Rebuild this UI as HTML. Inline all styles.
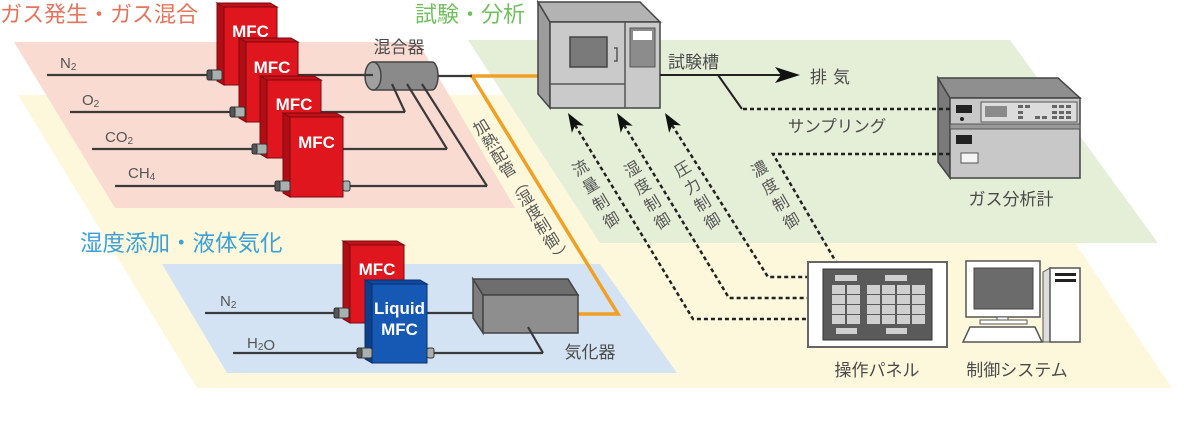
<!DOCTYPE html>
<html><head><meta charset="utf-8"><style>
html,body{margin:0;padding:0;background:#fff;}
svg{display:block;}
text{font-family:"Liberation Sans","Noto Sans CJK JP",sans-serif;}
</style></head><body>
<svg width="1200" height="445" viewBox="0 0 1200 445" xmlns="http://www.w3.org/2000/svg">
<!-- planes -->
<polygon points="18,95 977,95 1172,388 197,388" fill="#fdf8dc"/>
<polygon points="14,42 418,42 515,208 115,208" fill="#f9dbd2"/>
<polygon points="468,40 1010,40 1158,243 600,243" fill="#e5efd8"/>
<polygon points="162,264 600,264 677,373 227,373" fill="#d3e3f4"/>

<!-- titles -->
<text x="0" y="22" font-size="22" fill="#e8735c">ガス発生・ガス混合</text>
<text x="415" y="22" font-size="22" fill="#72bf5e">試験・分析</text>
<text x="80" y="251" font-size="22.5" fill="#3ba0d6">湿度添加・液体気化</text>

<!-- gas lines -->
<g stroke="#3a3a3a" stroke-width="2.2" fill="none">
<line x1="47" y1="75" x2="373" y2="75"/>
<line x1="70" y1="112" x2="405" y2="112"/>
<line x1="92" y1="149" x2="447" y2="149"/>
<line x1="115" y1="186" x2="487" y2="186"/>
</g>
<g font-size="15" fill="#555">
<text x="60" y="68">N<tspan font-size="10" dy="2">2</tspan></text>
<text x="82" y="105">O<tspan font-size="10" dy="2">2</tspan></text>
<text x="105" y="142">CO<tspan font-size="10" dy="2">2</tspan></text>
<text x="128" y="178">CH<tspan font-size="10" dy="2">4</tspan></text>
</g>

<!-- MFCs -->
<g stroke="#7a0a0e" stroke-width="1">
<polygon points="217,3 224,7 224,85 217,81" fill="#b00d14"/>
<polygon points="217,3 270,3 277,7 224,7" fill="#c41018"/>
<rect x="224" y="7" width="53" height="78" fill="#e0161e"/>
</g>
<text x="250.5" y="37" font-size="17" font-weight="bold" fill="#fff" text-anchor="middle">MFC</text>
<g stroke="#7a0a0e" stroke-width="1">
<polygon points="239,38 246,42 246,122 239,118" fill="#b00d14"/>
<polygon points="239,38 291,38 298,42 246,42" fill="#c41018"/>
<rect x="246" y="42" width="52" height="80" fill="#e0161e"/>
</g>
<text x="272" y="73" font-size="17" font-weight="bold" fill="#fff" text-anchor="middle">MFC</text>
<g stroke="#7a0a0e" stroke-width="1">
<polygon points="260,76 267,80 267,158 260,154" fill="#b00d14"/>
<polygon points="260,76 314,76 321,80 267,80" fill="#c41018"/>
<rect x="267" y="80" width="54" height="78" fill="#e0161e"/>
</g>
<text x="294" y="110" font-size="17" font-weight="bold" fill="#fff" text-anchor="middle">MFC</text>
<g stroke="#7a0a0e" stroke-width="1">
<polygon points="283,113 290,117 290,197 283,193" fill="#b00d14"/>
<polygon points="283,113 336,113 343,117 290,117" fill="#c41018"/>
<rect x="290" y="117" width="53" height="80" fill="#e0161e"/>
</g>
<text x="316.5" y="148" font-size="17" font-weight="bold" fill="#fff" text-anchor="middle">MFC</text>

<!-- connectors gas -->
<g stroke="#333" stroke-width="1">
<rect x="207" y="70" width="15" height="10" rx="2" fill="#a9b0b0"/><rect x="207" y="70" width="5" height="10" rx="2" fill="#555"/>
<rect x="230" y="107" width="15" height="10" rx="2" fill="#a9b0b0"/><rect x="230" y="107" width="5" height="10" rx="2" fill="#555"/>
<rect x="252" y="144" width="15" height="10" rx="2" fill="#a9b0b0"/><rect x="252" y="144" width="5" height="10" rx="2" fill="#555"/>
<rect x="275" y="181" width="15" height="10" rx="2" fill="#a9b0b0"/><rect x="275" y="181" width="5" height="10" rx="2" fill="#555"/>
<rect x="343" y="181" width="7" height="10" rx="2" fill="#a9b0b0"/>
</g>

<!-- orange pipe -->
<path d="M470,76 H551 M472,76 L618,314 L578,314" fill="none" stroke="#f0a024" stroke-width="3.5" stroke-linejoin="miter"/>

<!-- mixer -->
<path d="M373,62 H432 A6,14 0 0 1 432,90 H373 Z" fill="#8a8a8a" stroke="#444" stroke-width="1.5"/>
<ellipse cx="373" cy="76" rx="8" ry="14" fill="#a0a0a0" stroke="#444" stroke-width="1.5"/>
<line x1="365" y1="75" x2="373" y2="75" stroke="#3a3a3a" stroke-width="2.2"/>
<g stroke="#3a3a3a" stroke-width="2.2" fill="none">
<path d="M392,84 L405,112 M407,84 L447,149 M422,84 L487,186"/>
<line x1="438" y1="76" x2="472" y2="76"/>
</g>
<text x="399" y="53" font-size="17" fill="#4a4a4a" text-anchor="middle">混合器</text>

<!-- chamber -->
<polygon points="538,2 550,22 550,108 538,94" fill="#9c9c9c" stroke="#444" stroke-width="1.5"/>
<polygon points="538,2 640,2 660,22 550,22" fill="#b3b3b3" stroke="#444" stroke-width="1.5"/>
<rect x="550" y="22" width="110" height="86" fill="#cacaca" stroke="#444" stroke-width="1.5"/>
<line x1="625" y1="22" x2="625" y2="108" stroke="#555" stroke-width="1.5"/>
<line x1="550" y1="84" x2="625" y2="84" stroke="#555" stroke-width="1.5"/>
<rect x="570" y="37" width="37" height="30" fill="#7a7a7a" stroke="#444" stroke-width="1.5"/>
<path d="M614,48 h3 v13 h-3" fill="none" stroke="#555" stroke-width="1.5"/>
<rect x="630" y="28" width="25" height="39" fill="#8c8c8c" stroke="#555"/>
<rect x="633" y="31" width="19" height="9" fill="#fff"/>

<!-- exhaust / sampling -->
<line x1="660" y1="75" x2="782" y2="75" stroke="#222" stroke-width="2"/>
<polygon points="800,75 775,67 781,75 775,83" fill="#111"/>
<text x="668" y="68" font-size="17" fill="#4a4a4a">試験槽</text>
<text x="810" y="83" font-size="17" fill="#4a4a4a" letter-spacing="6">排気</text>
<path d="M718,75 L742,109" stroke="#222" stroke-width="2" fill="none"/>
<text x="837" y="132" font-size="16.5" fill="#4a4a4a" text-anchor="middle">サンプリング</text>

<!-- gas analyzer -->
<polygon points="938,78 950,98 950,178 938,162" fill="#7a7a7a" stroke="#444" stroke-width="1.5"/>
<polygon points="938,78 1058,78 1080,98 950,98" fill="#8f8f8f" stroke="#444" stroke-width="1.5"/>
<rect x="950" y="98" width="130" height="80" fill="#c8c8c8" stroke="#444" stroke-width="1.5"/>
<rect x="950" y="124" width="130" height="5" fill="#9a9a9a" stroke="#555"/>
<rect x="956" y="105" width="16" height="8" fill="#222"/>
<circle cx="962" cy="119" r="2" fill="#222"/>
<rect x="981" y="102" width="96" height="20" fill="#dcdcdc" stroke="#555"/>
<rect x="985" y="106" width="22" height="11" fill="#8a8a8a"/>
<g fill="#666">
<rect x="1018" y="105" width="5" height="3"/><rect x="1025" y="105" width="5" height="3"/>
<rect x="1018" y="111" width="5" height="3"/><rect x="1018" y="116" width="5" height="3"/>
<rect x="1035" y="116" width="5" height="3"/><rect x="1042" y="116" width="5" height="3"/>
<rect x="1052" y="105" width="5" height="3"/><rect x="1059" y="105" width="5" height="3"/><rect x="1066" y="105" width="5" height="3"/>
<rect x="1052" y="111" width="5" height="3"/><rect x="1059" y="111" width="5" height="3"/><rect x="1066" y="111" width="5" height="3"/>
<rect x="1052" y="116" width="5" height="3"/><rect x="1059" y="116" width="5" height="3"/><rect x="1066" y="116" width="5" height="3"/>
</g>
<rect x="956" y="135" width="16" height="9" fill="#222"/>
<rect x="961" y="153" width="17" height="10" fill="#f4f4f4" stroke="#555"/>
<text x="1011" y="205" font-size="17" fill="#4a4a4a" text-anchor="middle">ガス分析計</text>

<!-- dashed control lines -->
<g stroke="#222" stroke-width="2.5" fill="none" stroke-dasharray="4 3">
<path d="M743,109 H950"/>
<path d="M950,154 H773 L836,262"/>
<path d="M575,125 L693,319 H808"/>
<path d="M624,125 L729,298 H808"/>
<path d="M672,125 L768,277 H808"/>
</g>
<g fill="#111">
<polygon points="0,0 -7,19 0,14 7,19" transform="translate(568,113) rotate(-31.3)"/>
<polygon points="0,0 -7,19 0,14 7,19" transform="translate(617,113) rotate(-30.8)"/>
<polygon points="0,0 -7,19 0,14 7,19" transform="translate(665,113) rotate(-32)"/>
</g>

<!-- rotated labels -->
<g font-size="16" fill="#555" text-anchor="middle" dominant-baseline="central">
<text transform="translate(581,169) rotate(-31)">流</text>
<text transform="translate(591.3,186.3) rotate(-31)">量</text>
<text transform="translate(601.6,203.6) rotate(-31)">制</text>
<text transform="translate(612,221) rotate(-31)">御</text>
<text transform="translate(633,170) rotate(-31)">湿</text>
<text transform="translate(643,187.3) rotate(-31)">度</text>
<text transform="translate(653,204.6) rotate(-31)">制</text>
<text transform="translate(663,222) rotate(-31)">御</text>
<text transform="translate(683,170) rotate(-31)">圧</text>
<text transform="translate(693,187.3) rotate(-31)">力</text>
<text transform="translate(703,204.6) rotate(-31)">制</text>
<text transform="translate(713,222) rotate(-31)">御</text>
<text transform="translate(760,170) rotate(-30)">濃</text>
<text transform="translate(770.7,187.3) rotate(-30)">度</text>
<text transform="translate(781.3,204.6) rotate(-30)">制</text>
<text transform="translate(792,222) rotate(-30)">御</text>
<text transform="translate(482,128) rotate(-31.5)">加</text>
<text transform="translate(490.8,142.2) rotate(-31.5)">熱</text>
<text transform="translate(499.6,156.4) rotate(-31.5)">配</text>
<text transform="translate(508.3,170.7) rotate(-31.5)">管</text>
<text transform="translate(517.1,184.9) rotate(58.5)">（</text>
<text transform="translate(525.9,199.1) rotate(-31.5)">湿</text>
<text transform="translate(534.7,213.3) rotate(-31.5)">度</text>
<text transform="translate(543.4,227.6) rotate(-31.5)">制</text>
<text transform="translate(552.2,241.8) rotate(-31.5)">御</text>
<text transform="translate(561,256) rotate(58.5)">）</text>
</g>

<!-- humidity section lines -->
<g stroke="#3a3a3a" stroke-width="2.2" fill="none">
<line x1="205" y1="313" x2="483" y2="313"/>
<line x1="233" y1="353" x2="543" y2="353"/>
</g>
<g font-size="15" fill="#555">
<text x="220" y="306">N<tspan font-size="10" dy="2">2</tspan></text>
<text x="247" y="348">H<tspan font-size="10" dy="2">2</tspan>O</text>
</g>
<g stroke="#7a0a0e" stroke-width="1">
<polygon points="343,241 350,245 350,323 343,319" fill="#b00d14"/>
<polygon points="343,241 397,241 404,245 350,245" fill="#c41018"/>
<rect x="350" y="245" width="54" height="78" fill="#e0161e"/>
</g>
<text x="377" y="275" font-size="17" font-weight="bold" fill="#fff" text-anchor="middle">MFC</text>
<g stroke="#0a2f6a" stroke-width="1">
<polygon points="365,280 372,284 372,363 365,359" fill="#0d3f8a"/>
<polygon points="365,280 420,280 427,284 372,284" fill="#0f4aa0"/>
<rect x="372" y="284" width="55" height="79" fill="#1659b5"/>
</g>
<text x="399.5" y="314" font-size="17" font-weight="bold" fill="#fff" text-anchor="middle">Liquid</text>
<text x="399.5" y="335" font-size="17" font-weight="bold" fill="#fff" text-anchor="middle">MFC</text>
<g stroke="#333" stroke-width="1">
<rect x="334" y="308" width="15" height="10" rx="2" fill="#a9b0b0"/><rect x="334" y="308" width="5" height="10" rx="2" fill="#555"/>
<rect x="357" y="348" width="15" height="10" rx="2" fill="#a9b0b0"/><rect x="357" y="348" width="5" height="10" rx="2" fill="#555"/>
<rect x="427" y="348" width="7" height="10" rx="2" fill="#a9b0b0"/>
</g>

<!-- vaporizer -->
<polygon points="473,279 483,295 483,333 473,318" fill="#7d7d7d" stroke="#444" stroke-width="1.5"/>
<polygon points="473,279 568,279 578,295 483,295" fill="#6e6e6e" stroke="#444" stroke-width="1.5"/>
<rect x="483" y="295" width="95" height="38" fill="#8e8e8e" stroke="#444" stroke-width="1.5"/>
<path d="M543,353 L528,327" stroke="#3a3a3a" stroke-width="2.2" fill="none"/>
<text x="590" y="358" font-size="17" fill="#4a4a4a" text-anchor="middle">気化器</text>

<!-- operation panel -->
<rect x="808" y="262" width="139" height="85" fill="#fff" stroke="#666" stroke-width="2"/>
<rect x="823" y="269" width="109" height="71" fill="#5a5a5a" stroke="#333"/>
<g fill="#cfcfcf">
<rect x="835" y="275" width="22" height="6"/><rect x="885" y="275" width="22" height="6"/>
<rect x="836" y="328" width="21" height="6"/><rect x="886" y="328" width="21" height="6"/>
<rect x="832" y="285" width="13" height="9"/><rect x="847" y="285" width="13" height="9"/>
<rect x="832" y="295" width="13" height="9"/><rect x="847" y="295" width="13" height="9"/>
<rect x="832" y="305" width="13" height="9"/><rect x="847" y="305" width="13" height="9"/>
<rect x="832" y="315" width="13" height="9"/><rect x="847" y="315" width="13" height="9"/>
<rect x="867" y="285" width="13" height="9"/><rect x="882" y="285" width="13" height="9"/><rect x="897" y="285" width="13" height="9"/><rect x="912" y="285" width="13" height="9"/>
<rect x="867" y="295" width="13" height="9"/><rect x="882" y="295" width="13" height="9"/><rect x="897" y="295" width="13" height="9"/><rect x="912" y="295" width="13" height="9"/>
<rect x="867" y="305" width="13" height="9"/><rect x="882" y="305" width="13" height="9"/><rect x="897" y="305" width="13" height="9"/><rect x="912" y="305" width="13" height="9"/>
<rect x="867" y="315" width="13" height="9"/><rect x="882" y="315" width="13" height="9"/><rect x="897" y="315" width="13" height="9"/><rect x="912" y="315" width="13" height="9"/>
</g>
<text x="877" y="376" font-size="17" fill="#4a4a4a" text-anchor="middle">操作パネル</text>

<!-- computer -->
<rect x="966" y="261" width="74" height="56" fill="#fff" stroke="#555" stroke-width="1.5"/>
<rect x="974" y="268" width="59" height="41" fill="#6b6b6b" stroke="#444"/>
<rect x="997" y="317" width="11" height="4" fill="#fff" stroke="#555"/>
<rect x="980" y="320" width="47" height="4" fill="#fff" stroke="#555"/>
<polygon points="970,327 1035,327 1042,342 963,342" fill="#fff" stroke="#555" stroke-width="1.5"/>
<polygon points="1043,272 1050,268 1050,342 1043,342" fill="#ddd" stroke="#555"/>
<rect x="1050" y="268" width="30" height="74" fill="#fff" stroke="#555" stroke-width="1.5"/>
<rect x="1055" y="273" width="21" height="3" fill="#222"/>
<rect x="1055" y="279" width="21" height="3" fill="#222"/>
<text x="1017" y="376" font-size="17" fill="#4a4a4a" text-anchor="middle">制御システム</text>
</svg>
</body></html>
